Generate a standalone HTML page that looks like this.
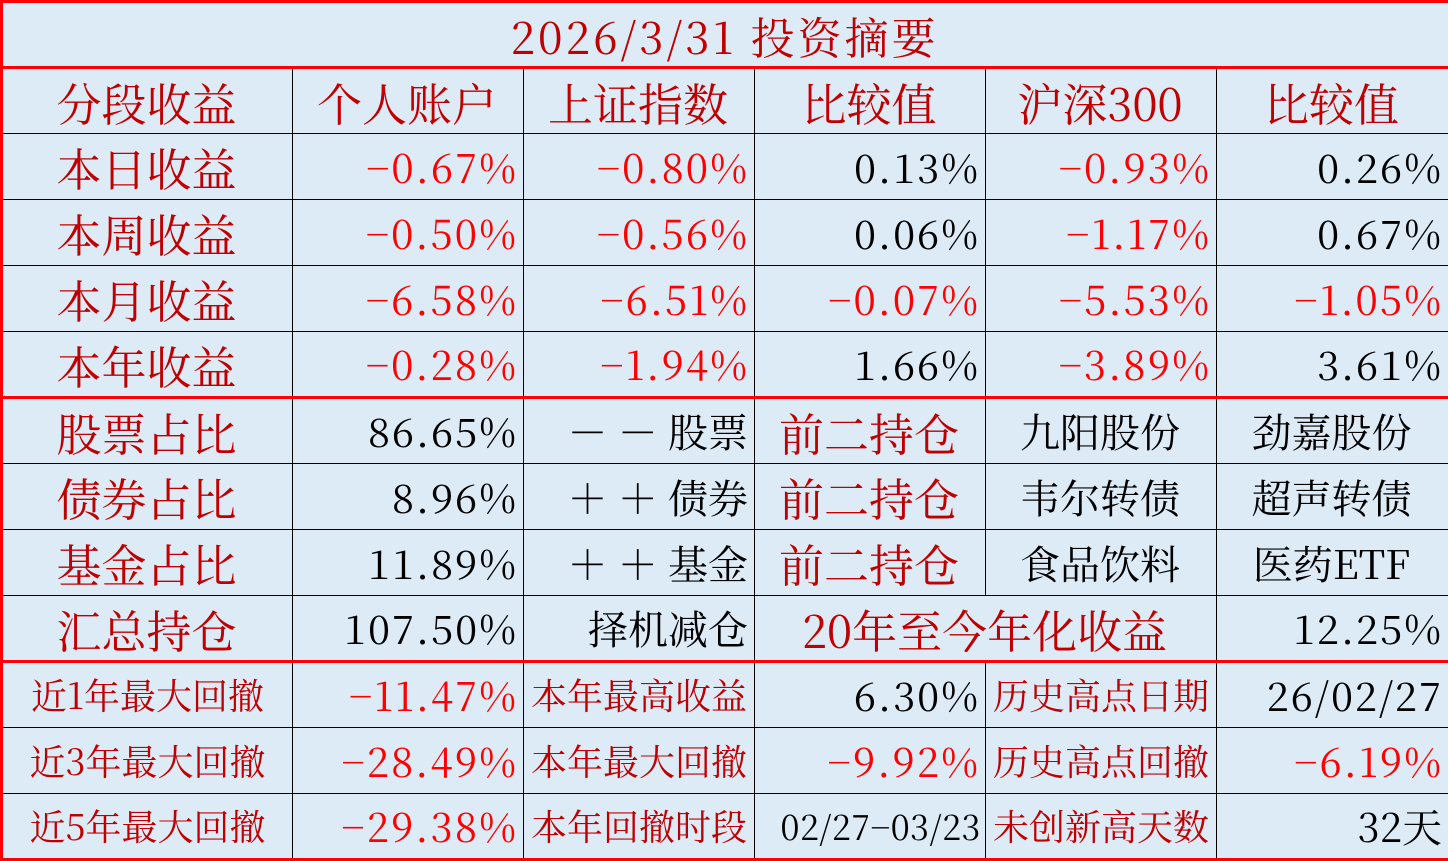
<!DOCTYPE html>
<html><head><meta charset="utf-8"><style>
html,body{margin:0;padding:0;background:#fff;}
table{border-collapse:collapse;table-layout:fixed;width:1448px;height:860px;background:#ddebf7;font-family:"Noto Serif CJK SC","Liberation Serif",serif;border:3px solid #ff0000;}
tr{height:66px;}
td{border:1.5px solid #000;padding:0 6px 0 4px;white-space:nowrap;overflow:hidden;font-size:40px;line-height:1;color:#000;text-align:right;}
td.l{color:#c00000;text-align:center;font-size:45px;}
td.n{color:#ff0000;}
td.c{text-align:center;}
tr.t td{border:3px solid #ff0000;color:#c00000;text-align:center;font-size:44px;letter-spacing:3px;}
tr.h td{color:#c00000;text-align:center;font-size:45px;}
tr.rt td{border-top:3px solid #ff0000;}
td.s{font-size:36px;color:#c00000;text-align:center;padding:0;}
.num{letter-spacing:2px;padding-right:5px;}
</style></head><body>
<table>
<colgroup><col style="width:291px"><col style="width:231px"><col style="width:231px"><col style="width:231px"><col style="width:231px"><col style="width:233px"></colgroup>
<tr class="t"><td colspan="6">2026/3/31 投资摘要</td></tr>
<tr class="h"><td>分段收益</td><td>个人账户</td><td>上证指数</td><td>比较值</td><td>沪深300</td><td>比较值</td></tr>
<tr><td class="l">本日收益</td><td class="n num">−0.67%</td><td class="n num">−0.80%</td><td class="num">0.13%</td><td class="n num">−0.93%</td><td class="num">0.26%</td></tr>
<tr><td class="l">本周收益</td><td class="n num">−0.50%</td><td class="n num">−0.56%</td><td class="num">0.06%</td><td class="n num">−1.17%</td><td class="num">0.67%</td></tr>
<tr><td class="l">本月收益</td><td class="n num">−6.58%</td><td class="n num">−6.51%</td><td class="n num">−0.07%</td><td class="n num">−5.53%</td><td class="n num">−1.05%</td></tr>
<tr><td class="l">本年收益</td><td class="n num">−0.28%</td><td class="n num">−1.94%</td><td class="num">1.66%</td><td class="n num">−3.89%</td><td class="num">3.61%</td></tr>
<tr class="rt"><td class="l">股票占比</td><td class="num">86.65%</td><td>－ － 股票</td><td class="l">前二持仓</td><td class="c">九阳股份</td><td class="c">劲嘉股份</td></tr>
<tr><td class="l">债券占比</td><td class="num">8.96%</td><td>＋ ＋ 债券</td><td class="l">前二持仓</td><td class="c">韦尔转债</td><td class="c">超声转债</td></tr>
<tr><td class="l">基金占比</td><td class="num">11.89%</td><td>＋ ＋ 基金</td><td class="l">前二持仓</td><td class="c">食品饮料</td><td class="c">医药ETF</td></tr>
<tr><td class="l">汇总持仓</td><td class="num">107.50%</td><td>择机减仓</td><td class="l" colspan="2">20年至今年化收益</td><td class="num">12.25%</td></tr>
<tr class="rt"><td class="s">近1年最大回撤</td><td class="n num">−11.47%</td><td class="s">本年最高收益</td><td class="num">6.30%</td><td class="s">历史高点日期</td><td class="num">26/02/27</td></tr>
<tr><td class="s">近3年最大回撤</td><td class="n num">−28.49%</td><td class="s">本年最大回撤</td><td class="n num">−9.92%</td><td class="s">历史高点回撤</td><td class="n num">−6.19%</td></tr>
<tr><td class="s">近5年最大回撤</td><td class="n num">−29.38%</td><td class="s">本年回撤时段</td><td style="font-size:34px;padding:0 4px;letter-spacing:0.5px">02/27−03/23</td><td class="s">未创新高天数</td><td>32天</td></tr>
</table>
</body></html>
